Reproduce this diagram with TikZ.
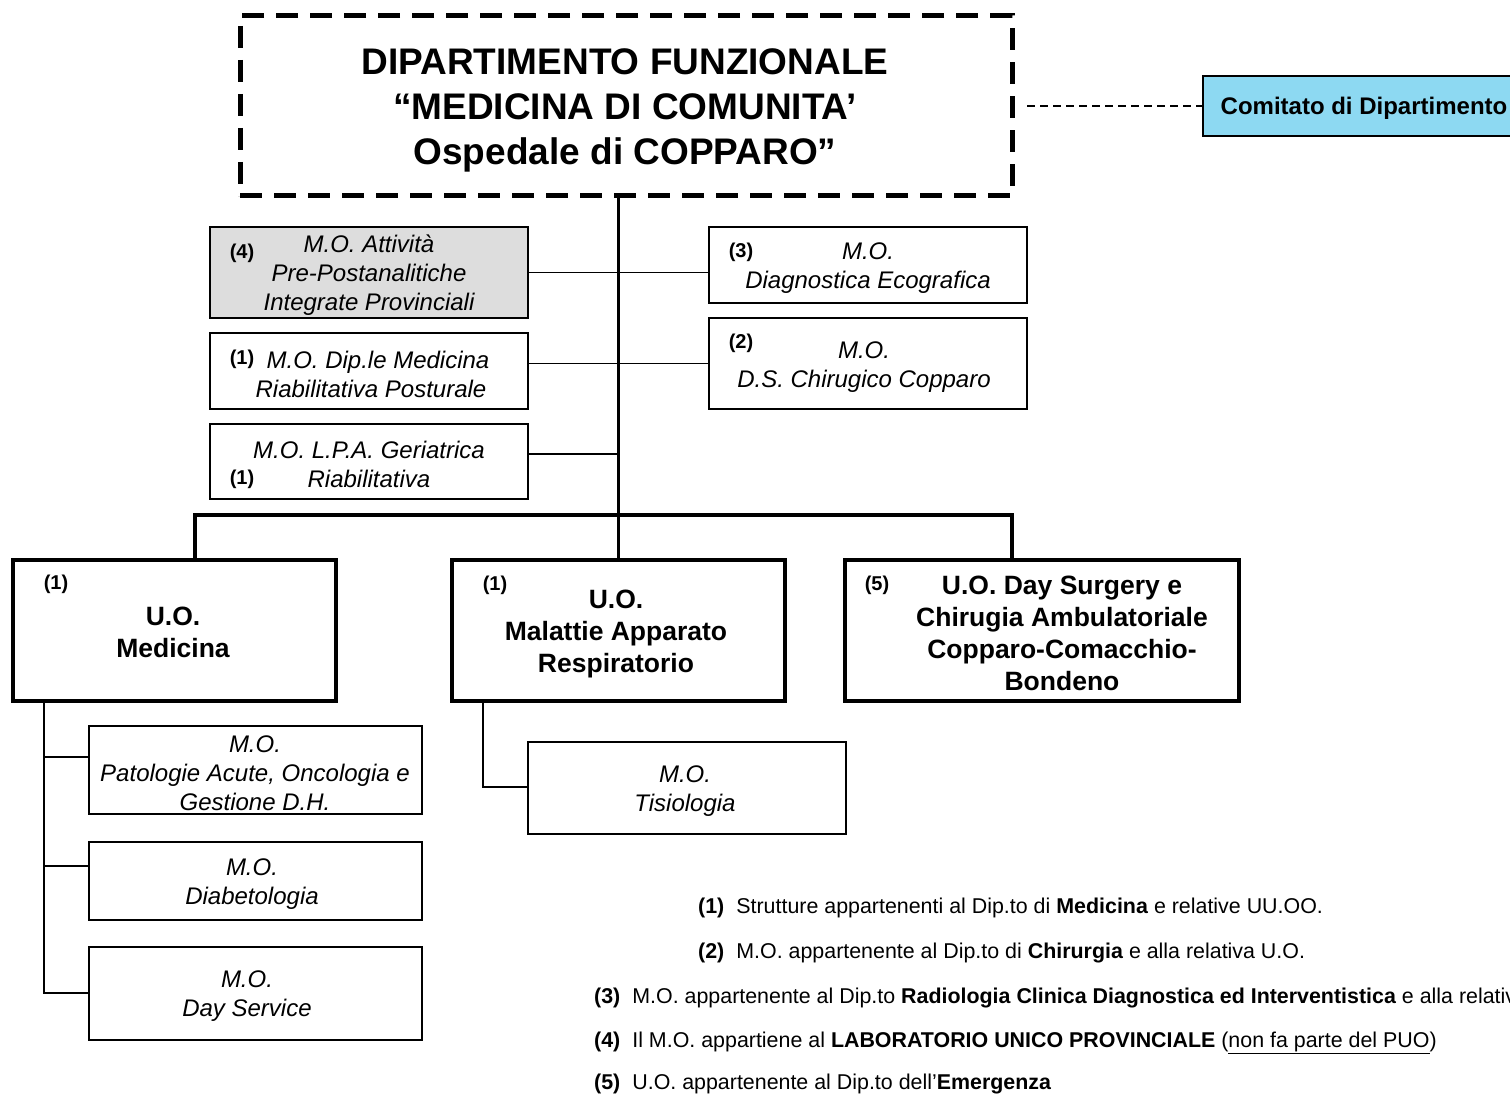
\documentclass[tikz,border=0pt]{standalone}
\usepackage{fontspec}
\setmainfont{Liberation Sans}
\definecolor{comblue}{HTML}{8DD9F2}
\definecolor{boxgray}{HTML}{DDDDDD}
\begin{document}
\begin{tikzpicture}[x=1pt,y=-1pt,
  box/.style={draw, line width=1.8pt, anchor=north west, inner sep=0pt, outer sep=0pt},
  bigbox/.style={draw, line width=3.8pt, anchor=north west, inner sep=0pt, outer sep=0pt},
  it/.style={inner sep=0pt, align=center, yshift=-2pt, font=\fontsize{24}{29}\selectfont\itshape},
  bt/.style={inner sep=0pt, align=center, yshift=-2pt, font=\fontsize{26.5}{32}\selectfont\bfseries},
  num/.style={inner sep=0pt, yshift=-1.5pt, font=\fontsize{20}{24}\selectfont\bfseries},
  conn/.style={line width=1.9pt},
  trunk/.style={line width=3.6pt},
  legend/.style={anchor=west, inner sep=0pt, yshift=-2pt, font=\fontsize{21.4}{25}\selectfont}
]
\useasboundingbox (0,0) rectangle (1510,1094);

% top department box
\node[draw, line width=5pt, dash pattern=on 22pt off 12pt, anchor=north west, inner sep=0pt, outer sep=0pt,
      minimum width=772, minimum height=180] (dept) at (240,16) {};
\node[inner sep=0pt, align=center, font=\fontsize{37}{45}\selectfont\bfseries] (deptt) at (625,110)
  {DIPARTIMENTO FUNZIONALE\\“MEDICINA DI COMUNITA’\hspace*{8pt}\\ Ospedale di COPPARO”};

% committee
\node[box, fill=comblue, minimum width=330, minimum height=60] (com) at (1203,76) {};
\node[inner sep=0pt, yshift=-2pt, font=\fontsize{24}{29}\selectfont\bfseries] (comt) at (1364,106) {Comitato di Dipartimento};
\coordinate (dstart) at (1027,106);
\draw[line width=1.3pt, dash pattern=on 8pt off 5pt] (dstart) -- (com.west);

% left M.O. boxes
\node[box, fill=boxgray, minimum width=318, minimum height=91] (b4) at (210,227) {};
\node[it] (b4t) at (369,273) {M.O. Attività\\Pre-Postanalitiche\\Integrate Provinciali};
\node[num] (b4n) at (242,252) {(4)};

\node[box, minimum width=318, minimum height=76] (b1a) at (210,333) {};
\node[it] (b1at) at (371,372) {\hspace*{14pt}M.O. Dip.le Medicina\\Riabilitativa Posturale};
\node[num] (b1an) at (242,358) {(1)};

\node[box, minimum width=318, minimum height=75] (b1b) at (210,424) {};
\node[it] (b1bt) at (369,462) {M.O. L.P.A. Geriatrica\\Riabilitativa};
\node[num] (b1bn) at (242,478) {(1)};

% right M.O. boxes
\node[box, minimum width=318, minimum height=76] (b3) at (709,227) {};
\node[it] (b3t) at (868,266.5) {M.O.\\Diagnostica Ecografica};
\node[num] (b3n) at (741,251) {(3)};

\node[box, minimum width=318, minimum height=91] (b2) at (709,318) {};
\node[it] (b2t) at (864,365) {M.O.\\D.S. Chirugico Copparo};
\node[num] (b2n) at (741,342) {(2)};

% U.O. boxes
\node[bigbox, minimum width=323, minimum height=141] (med) at (13,560) {};
\node[bt, yshift=2pt] (medt) at (173,632) {U.O.\\Medicina};
\node[num] (medn) at (56,583) {(1)};

\node[bigbox, minimum width=333, minimum height=141] (mal) at (452,560) {};
\node[bt] (malt) at (616,632) {U.O.\\Malattie Apparato\\Respiratorio};
\node[num] (maln) at (495,584) {(1)};

\node[bigbox, minimum width=394, minimum height=141] (dsu) at (845,560) {};
\node[bt] (dsut) at (1062,631) {U.O. Day Surgery e\\Chirugia Ambulatoriale\\Copparo-Comacchio-\\Bondeno};
\node[num] (dsun) at (877,584) {(5)};

% sub M.O. boxes
\node[box, minimum width=333, minimum height=88] (pat) at (89,726) {};
\node[it] (patt) at (255,771) {M.O.\\Patologie Acute, Oncologia e\\Gestione D.H.};

\node[box, minimum width=333, minimum height=78] (dia) at (89,842) {};
\node[it] (diat) at (252,882) {M.O.\\Diabetologia};

\node[box, minimum width=333, minimum height=93] (dsv) at (89,947) {};
\node[it] (dsvt) at (247,994.5) {M.O.\\Day Service};

\node[box, minimum width=318, minimum height=92] (tis) at (528,742) {};
\node[it] (tist) at (685,789) {M.O.\\Tisiologia};

% trunk
\draw[trunk] (dept.south -| mal.north) -- (mal.north);
\coordinate (barL) at (195,515);
\coordinate (barR) at (1012,515);
\draw[trunk] (barL |- med.north) -- (barL) -- (barR) -- (barR |- dsu.north);

% side connectors
\draw[conn] (b4.east) -- (b4.east -| b3.west);
\draw[conn] (b1a.east |- b2.west) -- (b2.west);
\coordinate (j3) at (619,454);
\draw[conn] (j3 -| b1b.east) -- (j3);

% Medicina subtree
\coordinate (m1) at (44,757);
\coordinate (m2) at (44,866);
\coordinate (m3) at (44,993);
\draw[conn] (med.south -| m1) -- (m3) -- (m3 -| dsv.west);
\draw[conn] (m1) -- (m1 -| pat.west);
\draw[conn] (m2) -- (m2 -| dia.west);

% Malattie subtree
\coordinate (r1) at (483,787);
\draw[conn] (mal.south -| r1) -- (r1) -- (r1 -| tis.west);

% legend
\node[legend] (l1) at (698,906) {\textbf{(1)}\hspace{12pt}Strutture appartenenti al Dip.to di \textbf{Medicina} e relative UU.OO.};
\node[legend] (l2) at (698,951) {\textbf{(2)}\hspace{12pt}M.O. appartenente al Dip.to di \textbf{Chirurgia} e alla relativa U.O.};
\node[legend] (l3) at (594,996) {\textbf{(3)}\hspace{12pt}M.O. appartenente al Dip.to \textbf{Radiologia Clinica Diagnostica ed Interventistica} e alla relativa U.O.};
\node[legend] (l4) at (594,1041) {\textbf{(4)}\hspace{12pt}Il M.O. appartiene al \textbf{LABORATORIO UNICO PROVINCIALE} (\underline{non fa parte del PUO})};
\node[legend] (l5) at (594,1082) {\textbf{(5)}\hspace{12pt}U.O. appartenente al Dip.to dell’\textbf{Emergenza}};
\end{tikzpicture}
\end{document}
